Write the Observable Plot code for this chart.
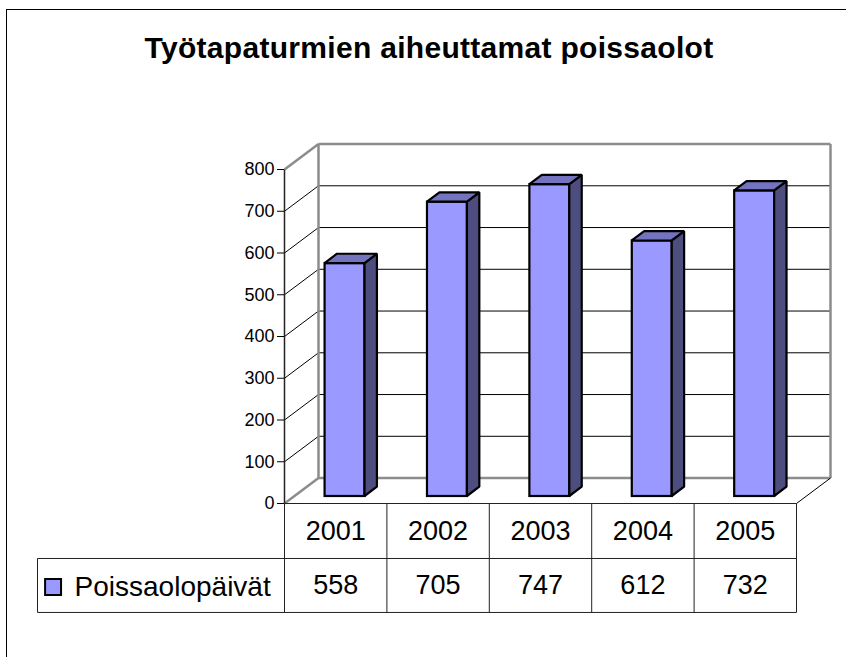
<!DOCTYPE html>
<html><head><meta charset="utf-8">
<script src="https://cdn.jsdelivr.net/npm/d3@7"></script>
<script src="https://cdn.jsdelivr.net/npm/@observablehq/plot@0.6"></script>
<style>
body{margin:0;background:#fff;}
#wrap{position:relative;width:846px;height:657px;overflow:hidden;font-family:"Liberation Sans",Arial,sans-serif;background:#fff;}
#border{position:absolute;left:6px;top:9px;width:900px;height:700px;border:1.5px solid #000;}
#title{position:absolute;left:0;width:858px;top:33px;text-align:center;font-weight:bold;font-size:30px;letter-spacing:0.3px;line-height:1;color:#000;}
#chart{position:absolute;left:0;top:0;}
</style></head><body>
<div id="wrap"><div id="border"></div><div id="chart"></div><div id="title"></div></div>
<script>
// ---- data ----
const titleText = "Työtapaturmien aiheuttamat poissaolot";
const years = ["2001", "2002", "2003", "2004", "2005"];
const values = [558, 705, 747, 612, 732];
const seriesName = "Poissaolopäivät";
const yTicks = [0, 100, 200, 300, 400, 500, 600, 700, 800];

document.getElementById("title").textContent = titleText;

// ---- 3D geometry (in scale units) ----
const N = years.length;
const DX = 0.332, DY = 61;       // full depth of the floor
const f0 = 0.275, f1 = 0.64;     // bar front / back depth fractions
const hw = 0.195;                // half bar width
const yMax = yTicks[yTicks.length - 1];
const R1 = -131.7, R2 = -261;    // table row boundaries
const xLeg = -2.412;             // legend cell left edge

const bars = years.map((yr, i) => ({yr, v: values[i], c: i + 0.5, i}));
const sidePts = bars.flatMap(d => [
  {i: d.i, x: d.c + hw + f0 * DX, y1: f0 * DY, y2: d.v + f0 * DY},
  {i: d.i, x: d.c + hw + f1 * DX, y1: f1 * DY, y2: d.v + f1 * DY}
]);
const topPts = bars.flatMap(d => [
  {i: d.i, y: d.v + f0 * DY, x1: d.c - hw + f0 * DX, x2: d.c + hw + f0 * DX},
  {i: d.i, y: d.v + f1 * DY, x1: d.c - hw + f1 * DX, x2: d.c + hw + f1 * DX}
]);

const inner = yTicks.filter(v => v > 0 && v < yMax);
const grayEdges = [
  {x1: 0, y1: yMax, x2: DX, y2: yMax + DY},
  {x1: DX, y1: DY, x2: DX, y2: yMax + DY},
  {x1: DX, y1: yMax + DY, x2: N + DX, y2: yMax + DY},
  {x1: N + DX, y1: DY, x2: N + DX, y2: yMax + DY},
  {x1: DX, y1: DY, x2: N + DX, y2: DY},
  {x1: 0, y1: 0, x2: DX, y2: DY}
];
const tableH = [
  {x1: 0, y1: 0, x2: N, y2: 0},
  {x1: xLeg, y1: R1, x2: N, y2: R1},
  {x1: xLeg, y1: R2, x2: N, y2: R2},
  {x1: xLeg, y1: R1, x2: xLeg, y2: R2},
  ...d3.range(N + 1).map(k => ({x1: k, y1: 0, x2: k, y2: R2}))
];

const chart = Plot.plot({
  width: 846, height: 657,
  marginLeft: 284, marginRight: 50, marginTop: 169, marginBottom: 154,
  x: {domain: [0, N], axis: null},
  y: {domain: [0, yMax]},
  style: {fontFamily: "Liberation Sans, Arial, sans-serif", fontSize: "18px", background: "transparent", color: "#000", overflow: "visible"},
  marks: [
    // walls & floor
    Plot.link(inner, {x1: DX, y1: d => d + DY, x2: N + DX, y2: d => d + DY, stroke: "#000", strokeWidth: 1}),
    Plot.link(inner, {x1: 0, y1: d => d, x2: DX, y2: d => d + DY, stroke: "#000", strokeWidth: 1}),
    Plot.link(grayEdges, {x1: "x1", y1: "y1", x2: "x2", y2: "y2", stroke: "#8c8c8c", strokeWidth: 2.5}),
    Plot.link([{x1: N, y1: 0, x2: N + DX, y2: DY}], {x1: "x1", y1: "y1", x2: "x2", y2: "y2", stroke: "#000", strokeWidth: 1}),
    Plot.link([{x1: 0, y1: 0, x2: 0, y2: yMax}], {x1: "x1", y1: "y1", x2: "x2", y2: "y2", stroke: "#222", strokeWidth: 1.5}),
    Plot.axisY({ticks: yTicks, tickSize: 7, tickPadding: 3, tickFormat: d => String(d), fontSize: 18}),
    // bars
    Plot.rect(bars, {x1: d => d.c - hw + f0 * DX, x2: d => d.c + hw + f0 * DX, y1: () => f0 * DY, y2: d => d.v + f0 * DY,
      fill: "#9999FF", stroke: "#000", strokeWidth: 2.2}),
    Plot.areaY(sidePts, {x: "x", y1: "y1", y2: "y2", z: "i", fill: "#4D4D80", stroke: "#000", strokeWidth: 2.2, strokeLinejoin: "miter"}),
    Plot.areaX(topPts, {y: "y", x1: "x1", x2: "x2", z: "i", fill: "#7373BF", stroke: "#000", strokeWidth: 2.2, strokeLinejoin: "miter"}),
    // data table
    Plot.link(tableH, {x1: "x1", y1: "y1", x2: "x2", y2: "y2", stroke: "#222", strokeWidth: 1}),
    Plot.text(bars, {x: "c", y: () => R1 / 2, text: "yr", fontSize: 27, fill: "#000"}),
    Plot.text(bars, {x: "c", y: () => (R1 + R2) / 2, text: d => String(d.v), fontSize: 27, fill: "#000"}),
    Plot.text([seriesName], {x: () => -2.05, y: () => (R1 + R2) / 2, text: d => d, textAnchor: "start", fontSize: 28, dy: 2, fill: "#000"}),
    Plot.dot([seriesName], {x: () => -2.26, y: () => (R1 + R2) / 2 - 3.5, symbol: "square", r: 9, fill: "#9999FF", stroke: "#000", strokeWidth: 2})
  ]
});
document.getElementById("chart").appendChild(chart);
</script>
</body></html>
